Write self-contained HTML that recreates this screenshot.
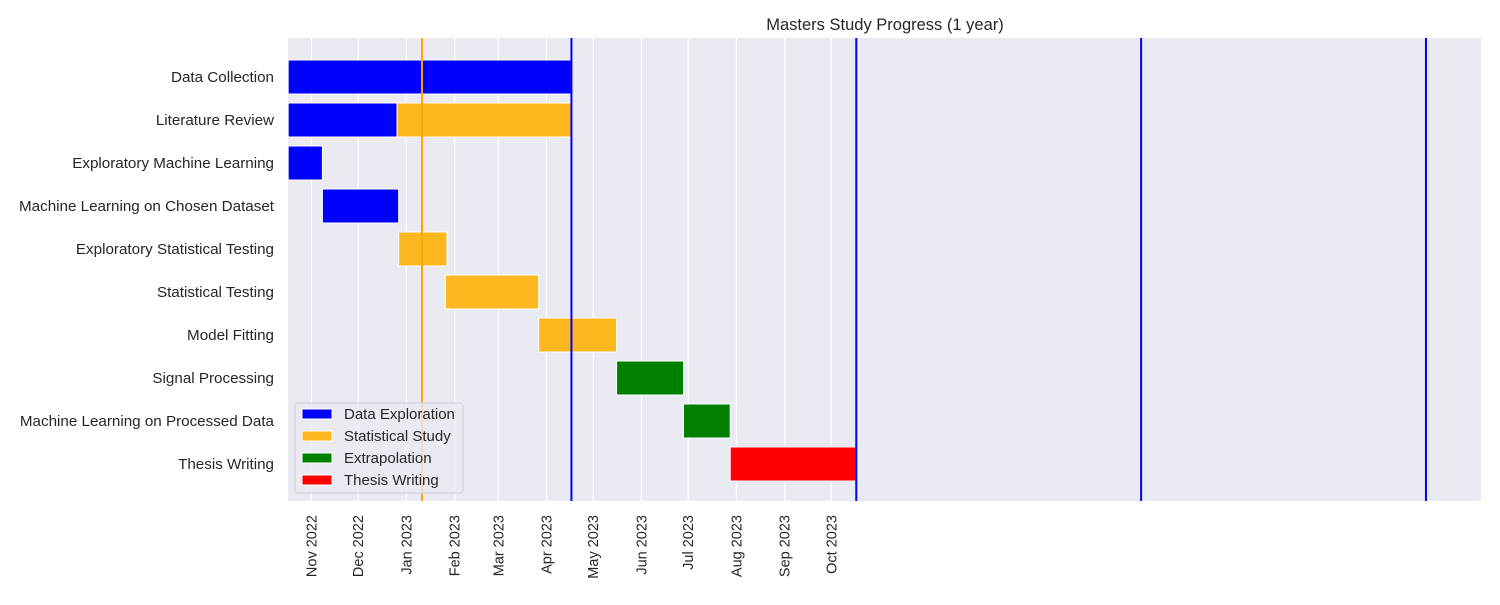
<!DOCTYPE html>
<html><head><meta charset="utf-8"><style>
body{margin:0;background:#fff;font-family:"Liberation Sans",Arial,sans-serif;}
svg text{font-family:"Liberation Sans",Arial,sans-serif;fill:#262626;}
</style></head><body>
<svg id="chart" width="1500" height="600" xmlns="http://www.w3.org/2000/svg">
<rect x="288" y="38" width="1193" height="463" fill="#eaeaf2"/>
<g id="grid"></g><g id="bars"></g><g id="vlines"></g><g id="ylabels"></g><g id="xlabels"></g>
<text x="885" y="30" text-anchor="middle" font-size="16.5">Masters Study Progress (1 year)</text>
<g id="legend"></g>
</svg>
<script>
const tasks=["Data Collection","Literature Review","Exploratory Machine Learning","Machine Learning on Chosen Dataset","Exploratory Statistical Testing","Statistical Testing","Model Fitting","Signal Processing","Machine Learning on Processed Data","Thesis Writing"];
const segTask=[0,1,1,2,3,4,5,6,7,8,9];
const segStart=["2022-10-17","2022-10-17","2022-12-26","2022-10-17","2022-11-08","2022-12-27","2023-01-26","2023-03-27","2023-05-16","2023-06-28","2023-07-28"];
const segEnd=["2023-04-17","2022-12-26","2023-04-17","2022-11-08","2022-12-27","2023-01-27","2023-03-27","2023-05-16","2023-06-28","2023-07-28","2023-10-17"];
const segCat=[0,0,1,0,0,1,1,1,2,2,3];
const categories=["Data Exploration","Statistical Study","Extrapolation","Thesis Writing"];
const catColors=["#0000ff","#fdb71f","#008000","#ff0000"];
const tickLabels=["Nov 2022","Dec 2022","Jan 2023","Feb 2023","Mar 2023","Apr 2023","May 2023","Jun 2023","Jul 2023","Aug 2023","Sep 2023","Oct 2023"];
const tickDates=["2022-11-01","2022-12-01","2023-01-01","2023-02-01","2023-03-01","2023-04-01","2023-05-01","2023-06-01","2023-07-01","2023-08-01","2023-09-01","2023-10-01"];
const blueLines=["2023-04-17","2023-10-17","2024-04-17","2024-10-17"];
const orangeLines=["2023-01-11"];
const NS="http://www.w3.org/2000/svg";
const base=Date.UTC(2022,10,1);
function x(d){const p=d.split("-");return 311.5+((Date.UTC(+p[0],+p[1]-1,+p[2])-base)/864e5)*1.5565;}
function y(i){return 77+i*43;}
function mk(t,a,parent){const e=document.createElementNS(NS,t);for(const k in a)e.setAttribute(k,a[k]);document.getElementById(parent).appendChild(e);return e;}
tickDates.forEach((d,i)=>{
 const l=mk("line",{x1:x(d),x2:x(d),y1:38,y2:501,stroke:"#fff","stroke-width":1.2},"grid");
 
 
 const t=mk("text",{x:0,y:0,"font-size":14.5,"text-anchor":"end",transform:`translate(${x(d)+5},515) rotate(-90)`},"xlabels");
 t.textContent=tickLabels[i];
 
 
});
tasks.forEach((n,i)=>{
 const t=mk("text",{x:274,y:y(i)+5,"font-size":15.2,"text-anchor":"end"},"ylabels");
 t.textContent=n;
 
 
});
segTask.forEach((ti,i)=>{
 const x0=x(segStart[i]),x1=x(segEnd[i]);
 const r=mk("rect",{x:x0,y:y(ti)-17,width:x1-x0,height:34,fill:catColors[segCat[i]],stroke:"#fff","stroke-width":1},"bars");
 
 
});
blueLines.forEach(d=>{
 const l=mk("line",{x1:x(d),x2:x(d),y1:38,y2:501,stroke:"#0000ff","stroke-width":2},"vlines");
 
 
});
orangeLines.forEach(d=>{
 const l=mk("line",{x1:x(d),x2:x(d),y1:38,y2:501,stroke:"#ffa500","stroke-width":2},"vlines");
 
 
});
const lb=mk("rect",{x:295,y:403,width:168,height:90,rx:3,fill:"#eaeaf2","fill-opacity":0.8,stroke:"#d0d0d8"},"legend");


categories.forEach((c,i)=>{
 const yy=414+i*22;
 const p=mk("rect",{x:302,y:yy-5,width:30,height:10,fill:catColors[i],stroke:"#fff"},"legend");
 
 
 const t=mk("text",{x:344,y:yy+5,"font-size":15},"legend");
 t.textContent=c;
 
 
});
</script>
</body></html>
